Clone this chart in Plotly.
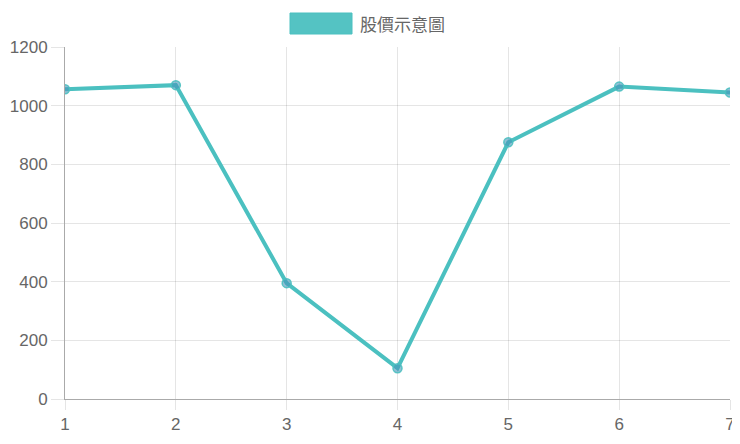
import plotly.graph_objects as go

# data
days = [1, 2, 3, 4, 5, 6, 7]
prices = [1056, 1070, 395, 105, 875, 1065, 1045]
series_name = "股價示意圖"
y_ticks = [0, 200, 400, 600, 800, 1000, 1200]

TEAL = "rgb(75,192,192)"
GRID = "rgba(0,0,0,0.1)"
TXT = "#666666"

# page body has an 8px margin, so the figure is offset by that
W, H = 740, 436
L, R, T, B = 57, 18, 39, 45
pw, ph = W - L - R, H - T - B

fig = go.Figure()
fig.add_trace(go.Scatter(
    x=days, y=prices, name=series_name, mode="lines+markers",
    line=dict(color=TEAL, width=4),
    marker=dict(size=9, color="rgba(70,150,185,0.6)",
                line=dict(color="rgba(75,192,192,0.9)", width=1.5)),
    showlegend=False,
))

# chart.js style legend: wide box + label above the plot
fig.add_shape(type="rect", xref="paper", yref="paper",
              x0=(282 - L) / pw, x1=(344 - L) / pw,
              y0=1 + (T - 26) / ph, y1=1 + (T - 5) / ph,
              fillcolor="rgba(75,192,192,0.95)", line=dict(color=TEAL, width=1))
fig.add_annotation(text=series_name, xref="paper", yref="paper",
                   x=(350 - L) / pw, y=1 + (T - 16) / ph,
                   xanchor="left", yanchor="middle", showarrow=False,
                   font=dict(family="Noto Sans CJK TC", size=17, color=TXT))

fig.update_xaxes(range=[1, 7], tickvals=days, showgrid=True, gridcolor=GRID,
                 gridwidth=1, zeroline=False, showline=True, linecolor="#aaaaaa",
                 linewidth=1, ticks="outside", ticklen=10, tickcolor=GRID,
                 automargin=False,
                 tickfont=dict(family="Liberation Sans", size=17, color=TXT))
fig.update_yaxes(range=[0, 1200], tickvals=y_ticks, showgrid=True, gridcolor=GRID,
                 gridwidth=1, zeroline=False, showline=True, linecolor="#aaaaaa",
                 linewidth=1, ticks="outside", ticklen=13, tickcolor=GRID,
                 automargin=False,
                 tickfont=dict(family="Liberation Sans", size=17, color=TXT))

fig.update_layout(
    width=W, height=H,
    margin=dict(l=L, r=R, t=T, b=B),
    plot_bgcolor="white", paper_bgcolor="white",
)

fig.write_html("out.html")
